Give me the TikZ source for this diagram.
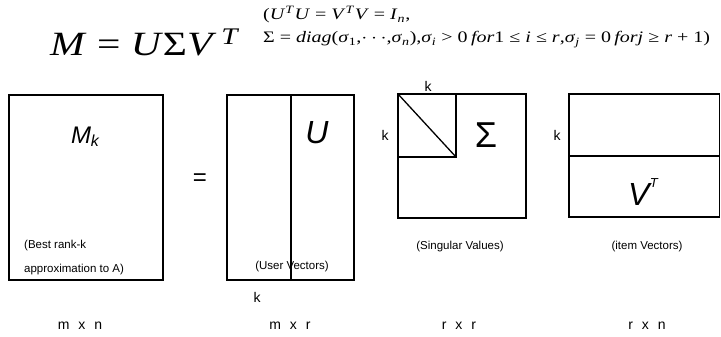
\documentclass[tikz,border=0pt]{standalone}
\usepackage{fontspec}
\setmainfont{Liberation Serif}
\setsansfont{Liberation Sans}
\newcommand{\ii}[1]{\textit{#1}}
\newcommand{\fs}[1]{\fontsize{#1}{#1}\selectfont}
\begin{document}
\begin{tikzpicture}[x=1pt,y=-1pt,
  mat/.style={line width=1.3pt},
  lab/.style={font=\sffamily\fs{11.5}, inner sep=0pt},
  dimlab/.style={font=\sffamily\fs{14}, inner sep=0pt, anchor=base},
  klab/.style={font=\sffamily\fs{14}, inner sep=0pt, anchor=base},
  big/.style={font=\sffamily\itshape, inner sep=0pt, anchor=base},
  cond/.style={inner sep=0pt, anchor=base west, font=\fs{16}}]
\useasboundingbox (0,0) rectangle (721,337);
% formulas
\node[inner sep=0pt, anchor=base west, font=\fs{34}] (svd) at (50,56)
  {\scalebox{1.22}[1]{\ii{M} = \ii{U}Σ\ii{V}\raisebox{2pt}{\textsuperscript{\,\ii{T}}}}};
\node[cond] (cond1) at (263,20)
  {\scalebox{1.25}[1]{(\ii{U}\textsuperscript{\ii{T}}\ii{U} = \ii{V}\textsuperscript{\ii{T}}\ii{V} = \ii{I}\textsubscript{\ii{n}},}};
\node[cond] (cond2) at (263,43)
  {\scalebox{1.25}[1]{Σ = \ii{diag}(\ii{σ}\textsubscript{1},$\cdots$,\ii{σ}\textsubscript{\ii{n}}),\ii{σ}\textsubscript{\ii{i}} > 0\,\ii{for}1 ≤ \ii{i} ≤ \ii{r},\ii{σ}\textsubscript{\ii{j}} = 0\,\ii{forj} ≥ \ii{r} + 1)}};
% M_k box
\draw[mat] (9,95) rectangle (163,280);
\node[big, font=\sffamily\itshape\fs{24}] (mk) at (85,143) {M\raisebox{-3pt}{\fs{16}k}};
\node[lab, anchor=base west] (best) at (24,248) {(Best rank-k};
\node[lab, anchor=base west] (appr) at (24,272) {approximation to A)};
\node[dimlab] (dmn) at (80,329) {m\hspace{9pt}x\hspace{9pt}n};
\node[inner sep=0pt, font=\sffamily\fs{24}] (eq) at (200,180) {=};
% U box
\draw[mat] (227,95) rectangle (354,280);
\draw[mat] (291,95) -- (291,280);
\node[big, font=\sffamily\itshape\fs{32}] (u) at (317,143) {U};
\node[lab, anchor=base] (uv) at (292,269) {(User Vectors)};
\node[klab] (ku) at (257,302) {k};
\node[dimlab] (dmr) at (290,329) {m\hspace{9pt}x\hspace{9pt}r};
% Sigma box
\draw[mat] (398,94) rectangle (526,218);
\draw[mat] (398,157) -| (456,94);
\draw[mat] (398,94) -- (456,157);
\node[big, font=\sffamily\fs{36}] (sig) at (486,147) {Σ};
\node[klab] (ks1) at (428,92) {k};
\node[klab] (ks2) at (385,140) {k};
\node[lab, anchor=base] (sv) at (460,249) {(Singular Values)};
\node[dimlab] (drr) at (459,329) {r\hspace{9pt}x\hspace{9pt}r};
% V^T box
\draw[mat] (569,94) rectangle (719.5,217);
\draw[mat] (569,156) -- (719.5,156);
\node[big, font=\sffamily\itshape\fs{32}] (vt) at (643,205) {V\hspace{0.5pt}\raisebox{18pt}{\fs{13}T}};
\node[klab] (kv) at (557,140) {k};
\node[lab, anchor=base] (iv) at (647,249) {(item Vectors)};
\node[dimlab] (drn) at (647,329) {r\hspace{9pt}x\hspace{9pt}n};
\end{tikzpicture}
\end{document}
